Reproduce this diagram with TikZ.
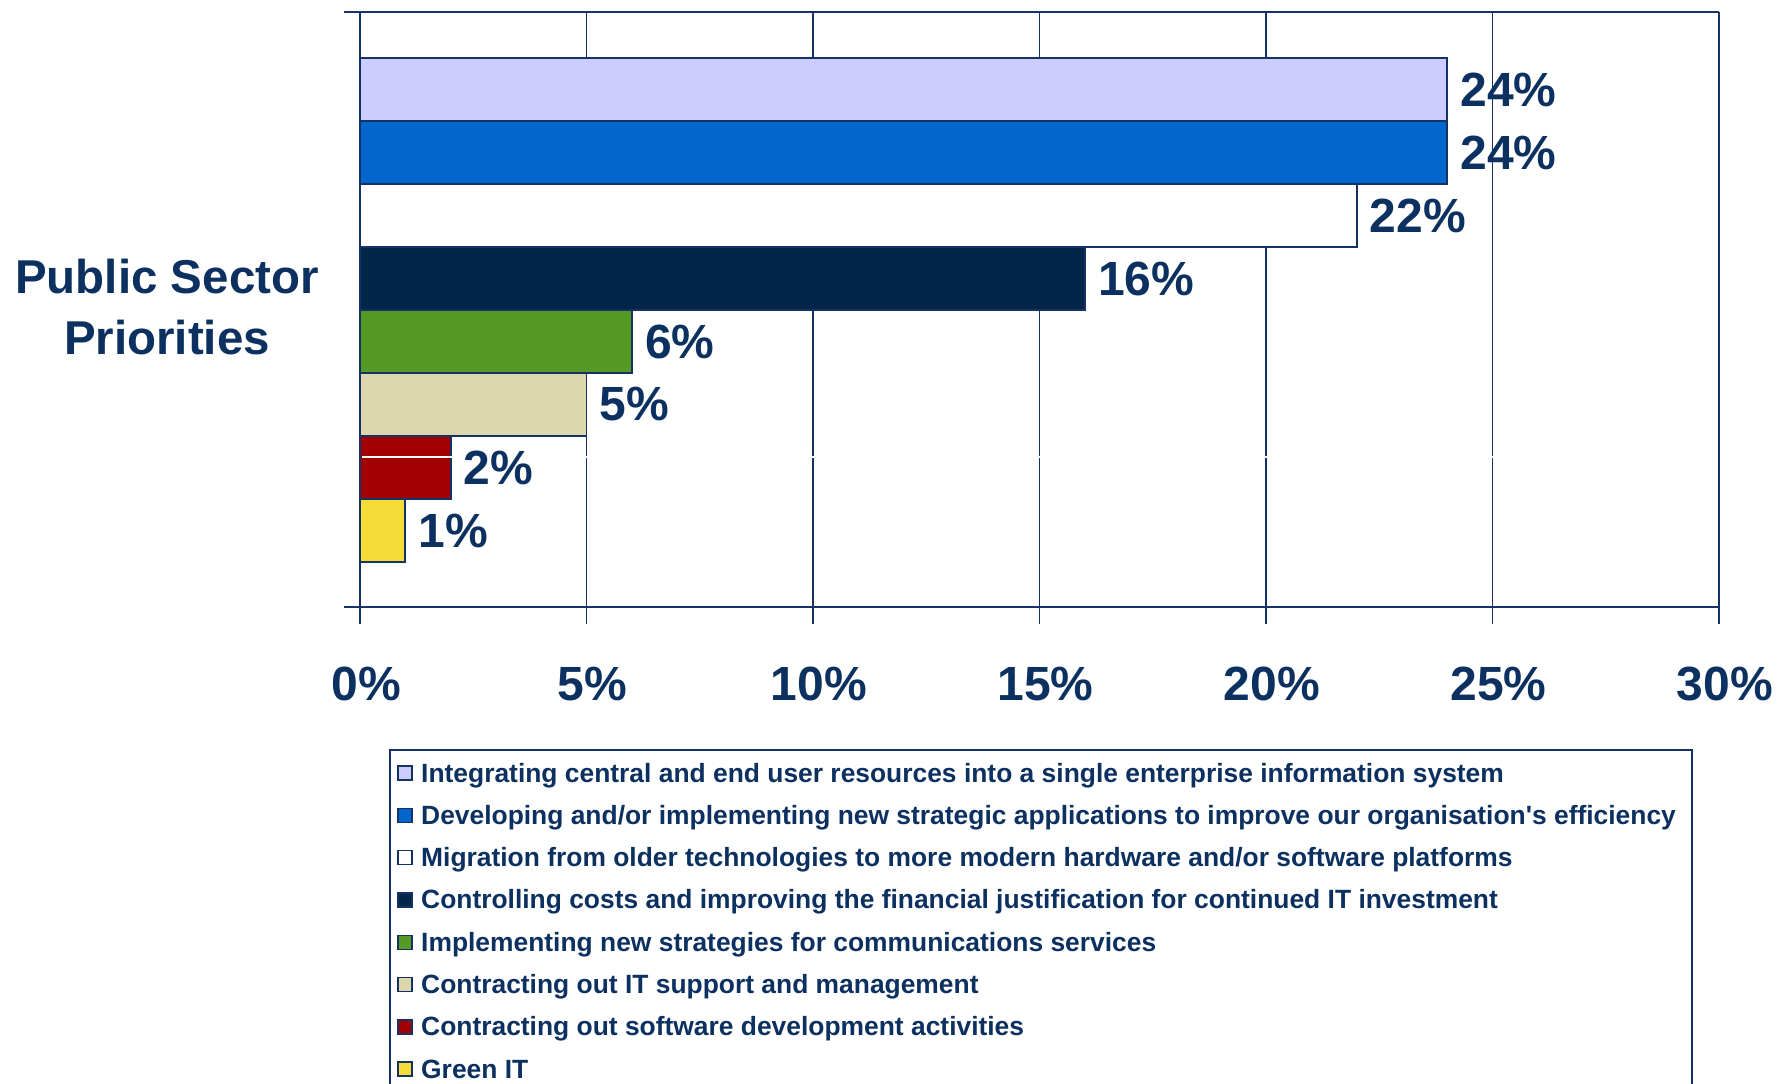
\documentclass[tikz,border=0pt]{standalone}
\usepackage{fontspec}
\setmainfont{Liberation Sans}
\definecolor{navy}{RGB}{12,48,96}
\definecolor{lineblue}{RGB}{20,50,100}
\definecolor{barA}{RGB}{204,204,255}
\definecolor{barB}{RGB}{2,102,204}
\definecolor{barC}{RGB}{255,255,255}
\definecolor{barD}{RGB}{2,37,73}
\definecolor{barE}{RGB}{85,154,36}
\definecolor{barF}{RGB}{221,215,173}
\definecolor{barG}{RGB}{162,0,0}
\definecolor{barH}{RGB}{245,220,55}
\begin{document}
\begin{tikzpicture}[x=1pt,y=-1pt,
  gridline/.style={draw=lineblue,line width=1.8pt},
  barbox/.style={draw=lineblue,line width=1.8pt,inner sep=0pt,outer sep=0pt,minimum height=63pt,anchor=north west},
  vallabel/.style={anchor=west,text=navy,font=\bfseries\fontsize{48}{56}\selectfont,inner sep=0pt,xshift=13pt},
  ticklabel/.style={anchor=base,text=navy,font=\bfseries\fontsize{48}{56}\selectfont,inner sep=0pt},
  titlelabel/.style={anchor=base,text=navy,font=\bfseries\fontsize{47.5}{56}\selectfont,inner sep=0pt},
  swatch/.style={draw=lineblue,line width=1.4pt,inner sep=0pt,outer sep=0pt,minimum size=14pt},
  legtext/.style={anchor=base west,text=navy,font=\bfseries\fontsize{26.4}{30}\selectfont,inner sep=0pt}]
\useasboundingbox (0,0) rectangle (1788,1084);
% vertical grid lines and ticks
\foreach \i in {0,...,6} {
  \draw[gridline] ({360+226.5*\i},12) -- ({360+226.5*\i},624);
}
% top and bottom borders with left ticks
\draw[gridline] (344,12) -- (1719,12);
\draw[gridline] (344,607) -- (1719,607);
% bars
\foreach \v/\c [count=\k from 0] in {24/barA,24/barB,22/barC,16/barD,6/barE,5/barF,2/barG,1/barH} {
  \node[barbox,fill=\c,minimum width={\v*45.3pt}] (b\k) at (360,{58+63*\k}) {};
}
% faint white line artefact
\draw[white,line width=1.2pt] (362,457) -- (1717,457);
\foreach \v [count=\k from 0] in {24,24,22,16,6,5,2,1} {
  \node[vallabel] (v\k) at (b\k.east) {\v\%};
}
% x tick labels
\foreach \t [count=\i from 0] in {0,5,10,15,20,25,30} {
  \node[ticklabel] (x\i) at ({366+226.5*\i},700) {\t\%};
}
% title
\node[titlelabel] (t1) at (167,293) {Public Sector};
\node[titlelabel] (t2) at (167,354) {Priorities};
% legend
\draw[draw=lineblue,line width=1.8pt,fill=white] (390,750) rectangle (1692,1110);
\foreach \c/\txt [count=\k from 0] in {
  barA/{Integrating central and end user resources into a single enterprise information system},
  barB/{Developing and/or implementing new strategic applications to improve our organisation\textquotesingle s efficiency},
  barC/{Migration from older technologies to more modern hardware and/or software platforms},
  barD/{Controlling costs and improving the financial justification for continued IT investment},
  barE/{Implementing new strategies for communications services},
  barF/{Contracting out IT support and management},
  barG/{Contracting out software development activities},
  barH/{Green IT}} {
  \node[swatch,fill=\c] (s\k) at (405,{782+42.3*\k-9}) {};
  \node[legtext] (l\k) at (421,{782+42.3*\k}) {\txt};
}
\end{tikzpicture}
\end{document}
